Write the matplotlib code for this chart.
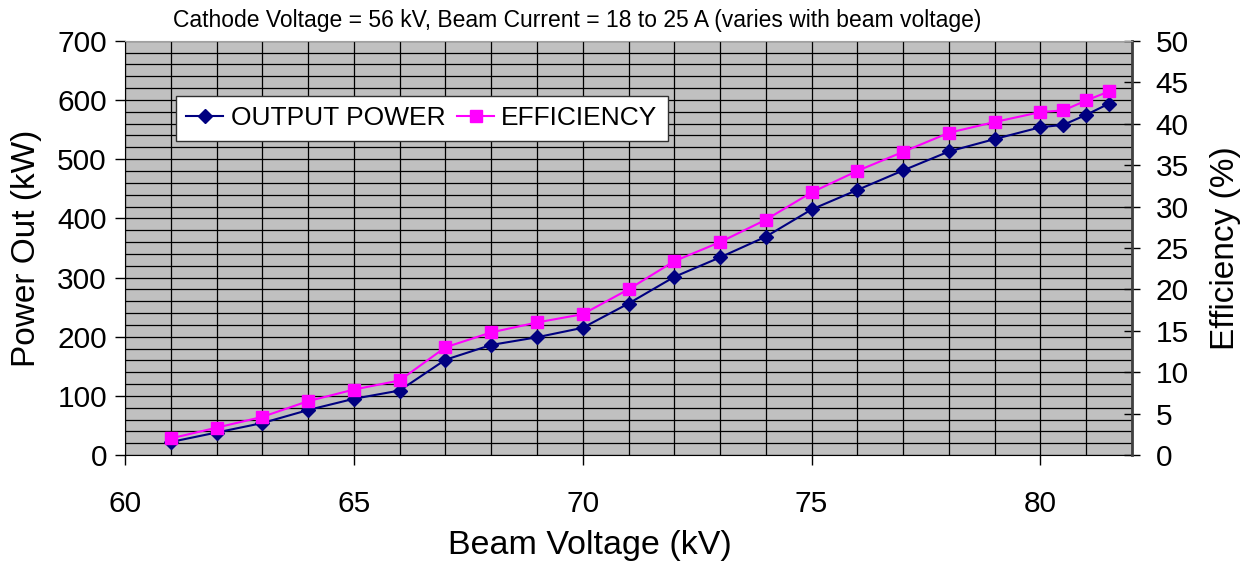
import numpy as np
import matplotlib
matplotlib.use("Agg")
import matplotlib.pyplot as plt
from matplotlib.ticker import MultipleLocator

plt.rcParams['font.family'] = ['Liberation Sans', 'DejaVu Sans']

# data
beam_voltage = [61, 62, 63, 64, 65, 66, 67, 68, 69, 70, 71, 72, 73, 74, 75,
                76, 77, 78, 79, 80, 80.5, 81, 81.5]
output_power = [22, 38, 54, 76, 95, 109, 161, 186, 199, 215, 256, 301, 334, 369, 415,
                448, 481, 513, 534, 554, 558, 575, 594]
efficiency = [2.0, 3.3, 4.6, 6.5, 7.9, 9.0, 13.0, 14.8, 16.0, 17.0, 20.0, 23.4, 25.7, 28.4, 31.7,
              34.3, 36.6, 38.9, 40.2, 41.4, 41.6, 42.8, 43.9]

fig = plt.figure(figsize=(12.57, 5.67), dpi=100)
ax = fig.add_axes([0.0994, 0.1975, 0.8012, 0.7305])
ax.set_facecolor('#C0C0C0')

ax.set_xlim(60, 82)
ax.set_ylim(0, 700)
ax.xaxis.set_major_locator(MultipleLocator(5))
ax.xaxis.set_minor_locator(MultipleLocator(1))
ax.yaxis.set_major_locator(MultipleLocator(100))
ax.yaxis.set_minor_locator(MultipleLocator(20))
ax.grid(True, which='both', color='black', linewidth=0.9)
ax.set_axisbelow(True)

ax.tick_params(axis='both', which='major', labelsize=21.5, direction='out', length=7, width=1)
ax.tick_params(axis='both', which='minor', length=0)
ax.tick_params(axis='x', pad=18)
ax.tick_params(axis='y', pad=6)

for s in ['top', 'right']:
    ax.spines[s].set_visible(False)

l1, = ax.plot(beam_voltage, output_power, color='#000080', marker='D', markersize=7,
              linewidth=1.5, label='OUTPUT POWER', zorder=4)

ax2 = ax.twinx()
ax2.set_ylim(0, 50)
ax2.yaxis.set_major_locator(MultipleLocator(5))
ax2.tick_params(axis='y', labelsize=21.5, direction='inout', length=12, width=1, pad=11)
ax2.spines['right'].set_color('#404040')
ax2.spines['right'].set_linewidth(2)
ax2.spines['top'].set_color('#A0A0A0')
ax2.spines['left'].set_visible(False)
ax2.spines['bottom'].set_visible(False)
l2, = ax2.plot(beam_voltage, efficiency, color='#FF00FF', marker='s', markersize=8,
               linewidth=1.5, label='EFFICIENCY', zorder=4)

ax.set_xlabel('Beam Voltage (kV)', fontsize=24.5)
ax.xaxis.set_label_coords(0.462, -0.182)
ax.set_ylabel('Power Out (kW)', fontsize=24, labelpad=11)
ax2.set_ylabel('Efficiency (%)', fontsize=24, labelpad=15)

fig.text(0.459, 0.964, 'Cathode Voltage = 56 kV, Beam Current = 18 to 25 A (varies with beam voltage)',
         fontsize=16.5, ha='center', va='center')

leg = ax2.legend(handles=[l1, l2], ncol=2, loc='upper left', bbox_to_anchor=(0.0506, 0.867),
                 fontsize=19, frameon=True, fancybox=False, framealpha=1,
                 edgecolor='#303030', handlelength=1.4, handletextpad=0.27, columnspacing=0.45,
                 borderpad=0.4, borderaxespad=0)
leg.get_frame().set_linewidth(1.0)

fig.savefig('out.png', dpi=100)
